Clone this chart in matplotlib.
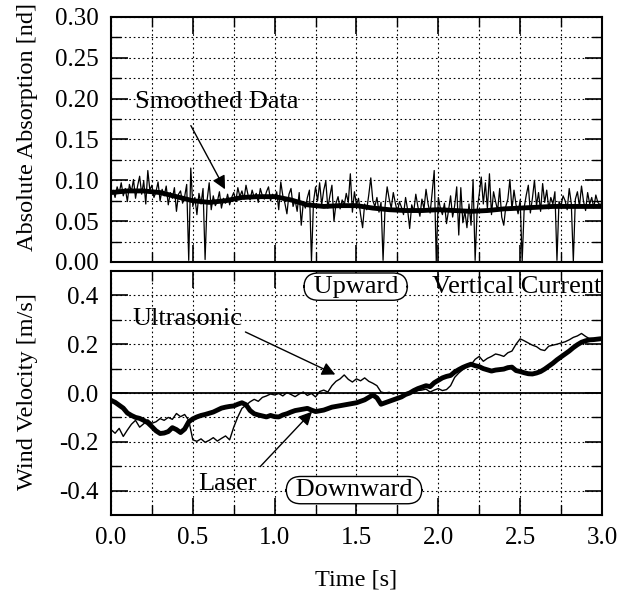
import numpy as np
import matplotlib
matplotlib.use("Agg")
import matplotlib.pyplot as plt
from matplotlib.ticker import MultipleLocator, FixedLocator, FormatStrFormatter

plt.rcParams['font.family'] = ['Liberation Serif', 'DejaVu Serif']
plt.rcParams['axes.unicode_minus'] = False

# absorption raw trace, one value every 0.0125 s (0.0 .. 3.0 s)
absorption_raw = [
    0.083, 0.088, 0.079, 0.092, 0.084, 0.097, 0.081, 0.090, 0.074, 0.095, 0.086, 0.101, 0.078, 0.093, 0.105, 0.083, 0.099, 0.071, 0.112, 0.088,
    0.094, 0.079, 0.086, 0.098, 0.075, 0.089, 0.081, 0.093, 0.070, 0.085, 0.078, 0.091, 0.062, 0.083, 0.087, 0.072, 0.080, 0.095, 0.002, 0.115,
    0.068, 0.079, 0.058, 0.084, 0.071, 0.090, 0.003, 0.076, 0.097, 0.064, 0.081, 0.069, 0.074, 0.086, 0.066, 0.078, 0.072, 0.083, 0.070, 0.079,
    0.085, 0.074, 0.091, 0.080, 0.087, 0.077, 0.094, 0.082, 0.076, 0.088, 0.079, 0.084, 0.073, 0.090, 0.081, 0.077, 0.086, 0.092, 0.075, 0.083,
    0.078, 0.086, 0.064, 0.098, 0.081, 0.072, 0.059, 0.083, 0.090, 0.068, 0.076, 0.062, 0.085, 0.045, 0.073, 0.066, 0.079, 0.088, 0.001, 0.074,
    0.092, 0.075, 0.097, 0.070, 0.088, 0.099, 0.066, 0.081, 0.094, 0.050, 0.072, 0.080, 0.065, 0.076, 0.069, 0.084, 0.073, 0.108, 0.061, 0.086,
    0.070, 0.078, 0.058, 0.042, 0.071, 0.064, 0.082, 0.103, 0.075, 0.068, 0.079, 0.061, 0.073, 0.002, 0.069, 0.092, 0.077, 0.066, 0.085, 0.072,
    0.061, 0.074, 0.067, 0.058, 0.079, 0.064, 0.041, 0.070, 0.062, 0.083, 0.068, 0.056, 0.077, 0.065, 0.089, 0.071, 0.060, 0.085, 0.112, 0.001,
    0.079, 0.066, 0.058, 0.072, 0.047, 0.063, 0.081, 0.055, 0.069, 0.092, 0.033, 0.091, 0.048, 0.062, 0.042, 0.071, 0.045, 0.101, 0.002, 0.064,
    0.083, 0.104, 0.071, 0.097, 0.065, 0.108, 0.058, 0.086, 0.074, 0.063, 0.090, 0.055, 0.045, 0.068, 0.077, 0.101, 0.064, 0.088, 0.070, 0.059,
    0.076, 0.001, 0.067, 0.082, 0.094, 0.060, 0.078, 0.100, 0.069, 0.085, 0.062, 0.096, 0.073, 0.088, 0.065, 0.079, 0.071, 0.086, 0.002, 0.074,
    0.069, 0.081, 0.075, 0.064, 0.090, 0.072, 0.001, 0.077, 0.086, 0.068, 0.093, 0.074, 0.063, 0.085, 0.071, 0.079, 0.066, 0.082, 0.073, 0.070,
    0.072,
]

# smoothed absorption, every 0.1 s
absorption_smooth = [
    0.085, 0.087, 0.087, 0.085, 0.080, 0.075, 0.073, 0.075, 0.079, 0.080,
    0.080, 0.076, 0.070, 0.068, 0.069, 0.069, 0.066, 0.064, 0.063, 0.063,
    0.064, 0.063, 0.062, 0.063, 0.065, 0.066, 0.067, 0.068, 0.068, 0.068,
    0.068,
]

# wind velocity, every 0.025 s
laser = [
    -0.030, -0.038, -0.050, -0.062, -0.082, -0.092, -0.100, -0.104, -0.112, -0.122,
    -0.138, -0.155, -0.166, -0.164, -0.158, -0.142, -0.150, -0.162, -0.148, -0.118,
    -0.106, -0.098, -0.092, -0.088, -0.083, -0.078, -0.070, -0.062, -0.058, -0.055,
    -0.053, -0.046, -0.040, -0.048, -0.072, -0.085, -0.090, -0.094, -0.098, -0.092,
    -0.097, -0.098, -0.090, -0.085, -0.078, -0.072, -0.069, -0.066, -0.063, -0.070,
    -0.076, -0.073, -0.070, -0.064, -0.058, -0.055, -0.052, -0.049, -0.046, -0.043,
    -0.040, -0.034, -0.028, -0.018, -0.008, -0.020, -0.046, -0.040, -0.034, -0.028,
    -0.022, -0.016, -0.006, 0.000, 0.010, 0.018, 0.024, 0.030, 0.026, 0.042,
    0.052, 0.062, 0.068, 0.072, 0.086, 0.096, 0.105, 0.112, 0.118, 0.112,
    0.108, 0.100, 0.095, 0.090, 0.094, 0.096, 0.098, 0.104, 0.106, 0.092,
    0.088, 0.083, 0.079, 0.078, 0.082, 0.088, 0.098, 0.110, 0.122, 0.136,
    0.148, 0.160, 0.172, 0.186, 0.198, 0.208, 0.214, 0.218, 0.219, 0.221,
    0.223,
]
ultrasonic = [
    -0.150, -0.165, -0.145, -0.178, -0.152, -0.128, -0.112, -0.140, -0.126, -0.110,
    -0.124, -0.118, -0.105, -0.112, -0.100, -0.108, -0.084, -0.097, -0.088, -0.112,
    -0.192, -0.198, -0.188, -0.202, -0.194, -0.183, -0.197, -0.186, -0.176, -0.192,
    -0.140, -0.098, -0.063, -0.050, -0.036, -0.026, -0.034, -0.018, -0.012, -0.004,
    -0.008, -0.002, -0.012, 0.002, -0.006, -0.015, -0.004, 0.004, -0.010, -0.002,
    -0.016, 0.006, 0.012, 0.004, 0.030, 0.048, 0.058, 0.074, 0.056, 0.045,
    0.058, 0.050, 0.062, 0.048, 0.040, 0.030, 0.004, 0.000, 0.003, -0.004,
    0.002, 0.000, -0.002, 0.005, 0.003, 0.010, 0.012, 0.016, 0.004, 0.012,
    0.018, 0.010, 0.014, 0.030, 0.064, 0.082, 0.096, 0.108, 0.116, 0.138,
    0.150, 0.130, 0.142, 0.150, 0.160, 0.156, 0.150, 0.165, 0.172, 0.200,
    0.222, 0.214, 0.205, 0.196, 0.190, 0.178, 0.174, 0.192, 0.196, 0.200,
    0.205, 0.210, 0.218, 0.228, 0.234, 0.244, 0.232, 0.222, 0.218, 0.225,
    0.226,
]

t_raw = np.linspace(0, 3.0, len(absorption_raw))
t_smooth = np.linspace(0, 3.0, len(absorption_smooth))
t_wind = np.linspace(0, 3.0, len(laser))

FS_TICK = 18
FS_LABEL = 17.5
FS_NOTE = 19
fig = plt.figure(figsize=(6.26, 5.98), dpi=100)
ax1 = fig.add_axes([0.1773, 0.5619, 0.7843, 0.4097])
ax2 = fig.add_axes([0.1773, 0.1388, 0.7843, 0.4080])

grid_kw = dict(color='k', linestyle=(0, (1.5, 2.5)), linewidth=0.8)
arrow_kw = dict(arrowstyle='-|>', color='k', lw=1.0, mutation_scale=20)

def style_axis(ax):
    ax.set_xlim(0, 3.0)
    ax.xaxis.set_major_locator(MultipleLocator(0.5))
    ax.xaxis.set_minor_locator(MultipleLocator(0.25))
    ax.grid(True, which='both', **grid_kw)
    ax.tick_params(which='major', direction='in', length=12, width=1.2,
                   top=True, right=True, labelsize=FS_TICK, pad=9)
    ax.tick_params(which='minor', direction='in', length=7, width=1.0,
                   top=True, right=True)
    for s in ax.spines.values():
        s.set_linewidth(1.5)

# top panel: absorption
style_axis(ax1)
ax1.plot(t_raw, absorption_raw, color='k', lw=0.9)
ax1.plot(t_smooth, absorption_smooth, color='k', lw=3.5)
ax1.set_ylim(0, 0.30)
ax1.yaxis.set_major_locator(MultipleLocator(0.05))
ax1.yaxis.set_minor_locator(MultipleLocator(0.025))
ax1.yaxis.set_major_formatter(FormatStrFormatter('%.2f'))
ax1.tick_params(labelbottom=False)
ax1.text(0.646, 0.196, 'Smoothed Data', fontsize=FS_NOTE, ha='center', va='center')
ax1.annotate('', xy=(0.705, 0.086), xytext=(0.48, 0.170), arrowprops=arrow_kw)

# bottom panel: wind velocity
style_axis(ax2)
ax2.axhline(0, color='k', lw=1.3)
ax2.plot(t_wind, ultrasonic, color='k', lw=1.0)
ax2.plot(t_wind, laser, color='k', lw=3.5)
ax2.set_ylim(-0.5, 0.5)
ax2.yaxis.set_major_locator(FixedLocator([-0.4, -0.2, 0.0, 0.2, 0.4]))
ax2.yaxis.set_minor_locator(FixedLocator([-0.3, -0.1, 0.1, 0.3]))
ax2.yaxis.set_major_formatter(FormatStrFormatter('%.1f'))
ax2.xaxis.set_major_formatter(FormatStrFormatter('%.1f'))

ax2.text(0.466, 0.303, 'Ultrasonic', fontsize=FS_NOTE, ha='center', va='center')
ax2.annotate('', xy=(1.386, 0.071), xytext=(0.806, 0.255), arrowprops=arrow_kw)
ax2.text(0.715, -0.373, 'Laser', fontsize=FS_NOTE, ha='center', va='center')
ax2.annotate('', xy=(1.24, -0.068), xytext=(0.90, -0.31), arrowprops=arrow_kw)

box_kw = dict(boxstyle='round,pad=0.1,rounding_size=0.55', fc='white', ec='k', lw=1.0)
ax2.text(1.495, 0.436, ' Upward ', fontsize=FS_NOTE, ha='center', va='center', bbox=box_kw)
ax2.text(2.995, 0.436, 'Vertical Current', fontsize=FS_NOTE, ha='right', va='center')
ax2.text(1.485, -0.398, ' Downward ', fontsize=FS_NOTE, ha='center', va='center', bbox=box_kw)

fig.text(28 / 626, 1 - 127 / 598, 'Absolute Absorption [nd]', fontsize=FS_LABEL,
         rotation=90, ha='center', va='center')
fig.text(28 / 626, 1 - 392 / 598, 'Wind Velocity [m/s]', fontsize=FS_LABEL,
         rotation=90, ha='center', va='center')
fig.text(356 / 626, 1 - 580 / 598, 'Time [s]', fontsize=FS_LABEL, ha='center', va='center')

fig.savefig('out.png', dpi=100)
